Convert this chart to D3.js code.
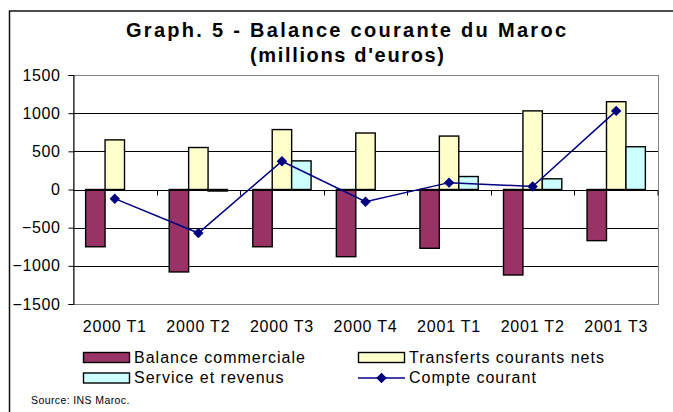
<!DOCTYPE html>
<meta charset="utf-8">
<style>
body{margin:0;background:#fff;}
svg{display:block;font-family:Arial,"Liberation Sans",sans-serif;}
</style>
<svg id="chart" width="673" height="412"></svg>
<script src="https://cdn.jsdelivr.net/npm/d3@7"></script>
<script>
// quarters on the x axis
const quarters = ['2000 T1','2000 T2','2000 T3','2000 T4','2001 T1','2001 T2','2001 T3']
// bar series (millions d'euros)
const balanceCommerciale = [-750, -1080, -750, -880, -770, -1120, -670]
const transfertsNets = [650, 550, 785, 740, 700, 1030, 1150]
const serviceRevenus = [0, -20, 375, 0, 170, 140, 560]
// line series
const compteCourant = [-120, -570, 370, -160, 90, 40, 1030]
const yTicks = [-1500, -1000, -500, 0, 500, 1000, 1500]

const seriesNames = ['Balance commerciale','Transferts courants nets','Service et revenus']
const seriesColors = ['#993366','#ffffcc','#ccffff']
const barData = [balanceCommerciale, transfertsNets, serviceRevenus]

const svg = d3.select('#chart')

// outer frame of the chart (runs off the page on right/bottom)
svg.append('path')
  .attr('d', 'M9.5,420V11H680')
  .attr('fill','none').attr('stroke','#111').attr('stroke-width',1.5)

// title
const title = svg.append('g').attr('font-weight','bold').attr('font-size',20).attr('text-anchor','middle')
title.append('text').attr('x',346).attr('y',37)
  .attr('textLength',440).attr('lengthAdjust','spacing')
  .text('Graph. 5 - Balance courante du Maroc')
title.append('text').attr('x',347).attr('y',62)
  .attr('textLength',194).attr('lengthAdjust','spacing')
  .text("(millions d'euros)")

const plotL = 73, plotR = 658, plotT = 75, plotB = 304

const x = d3.scaleBand().domain(quarters).range([plotL, plotR]).padding(0)
const xs = d3.scaleBand().domain(seriesNames).range([0, x.bandwidth()])
  .paddingInner(0).paddingOuter(0.65)
const y = d3.scaleLinear().domain([-1500, 1500]).range([plotB, plotT])

// gridlines
svg.append('g').selectAll('line').data(yTicks.filter(v => v > -1500 && v < 1500 && v !== 0))
  .join('line')
  .attr('x1', plotL).attr('x2', plotR)
  .attr('y1', d => Math.round(y(d)) + 0.5).attr('y2', d => Math.round(y(d)) + 0.5)
  .attr('stroke', '#000').attr('stroke-width', 1)

// plot area border
svg.append('rect')
  .attr('x', plotL + 0.5).attr('y', Math.round(y(1500)) + 0.5)
  .attr('width', plotR - plotL).attr('height', Math.round(y(-1500)) - Math.round(y(1500)))
  .attr('fill','none').attr('stroke','#808080')

// bars
const groups = svg.append('g').selectAll('g').data(barData).join('g')
  .attr('fill', (_, i) => seriesColors[i])
groups.selectAll('rect')
  .data((row, si) => row.map((v, qi) => ({v, q: quarters[qi], s: seriesNames[si]})).filter(d => d.v !== 0))
  .join('rect')
  .attr('x', d => x(d.q) + xs(d.s))
  .attr('width', xs.bandwidth())
  .attr('y', d => y(Math.max(0, d.v)))
  .attr('height', d => Math.max(1, Math.abs(y(d.v) - y(0))))
  .attr('stroke', '#000').attr('stroke-width', 1.4)

// y axis
const yAxis = svg.append('g').attr('transform', `translate(${plotL + 0.5},0)`)
  .call(d3.axisLeft(y).tickValues(yTicks).tickSize(5).tickPadding(8).tickFormat(d3.format('d')))
yAxis.select('.domain').attr('stroke','#000')
yAxis.selectAll('text').attr('font-size', 16).attr('letter-spacing', 0.6)
  .attr('font-family','Arial,"Liberation Sans",sans-serif').attr('fill','#000')

// x axis at zero, ticks at category boundaries
const y0 = Math.round(y(0)) + 0.5
svg.append('line').attr('x1', plotL).attr('x2', plotR).attr('y1', y0).attr('y2', y0).attr('stroke','#000')
svg.append('g').selectAll('line').data(quarters.slice(1).concat(['end']))
  .join('line')
  .attr('x1', d => d === 'end' ? plotR : Math.round(x(d)) + 0.5)
  .attr('x2', d => d === 'end' ? plotR : Math.round(x(d)) + 0.5)
  .attr('y1', y0).attr('y2', y0 + 5).attr('stroke','#000')

// category labels
svg.append('g').selectAll('text').data(quarters).join('text')
  .attr('x', d => x(d) + x.bandwidth() / 2).attr('y', 332)
  .attr('text-anchor','middle').attr('font-size', 16).attr('letter-spacing', 0.8)
  .text(d => d)

// compte courant line
const line = d3.line().x((d, i) => x(quarters[i]) + x.bandwidth() / 2).y(d => y(d))
svg.append('path').datum(compteCourant)
  .attr('d', line).attr('fill','none').attr('stroke','#000080').attr('stroke-width',1.5)
const diamond = d3.symbol().type(d3.symbolDiamond2).size(70)
svg.append('g').selectAll('path').data(compteCourant).join('path')
  .attr('transform', (d, i) => `translate(${x(quarters[i]) + x.bandwidth() / 2},${y(d)})`)
  .attr('d', diamond).attr('fill','#000080')

// legend
const legend = svg.append('g').attr('font-size', 16).attr('letter-spacing', 1)
const legendItems = [
  {name: seriesNames[0], col: 0, row: 0, type: 'bar', color: seriesColors[0]},
  {name: seriesNames[1], col: 1, row: 0, type: 'bar', color: seriesColors[1]},
  {name: seriesNames[2], col: 0, row: 1, type: 'bar', color: seriesColors[2]},
  {name: 'Compte courant', col: 1, row: 1, type: 'line', color: '#000080'}
]
const li = legend.selectAll('g').data(legendItems).join('g')
  .attr('transform', d => `translate(${d.col ? 358 : 83},${d.row ? 378 : 357.5})`)
li.filter(d => d.type === 'bar').append('rect')
  .attr('x', 0.5).attr('y', -5).attr('width', 46).attr('height', 10)
  .attr('fill', d => d.color).attr('stroke','#000').attr('stroke-width',1.4)
li.filter(d => d.type === 'line').append('line')
  .attr('x1', 0).attr('x2', 47).attr('y1', 0).attr('y2', 0)
  .attr('stroke', d => d.color).attr('stroke-width', 1.5)
li.filter(d => d.type === 'line').append('path')
  .attr('transform','translate(23.5,0)').attr('d', diamond).attr('fill','#000080')
li.append('text').attr('x', 51).attr('y', 5).text(d => d.name)

// source note
svg.append('text').attr('x', 31).attr('y', 404).attr('font-size', 10.5)
  .attr('letter-spacing', 0.4)
  .text('Source: INS Maroc.')
</script>
